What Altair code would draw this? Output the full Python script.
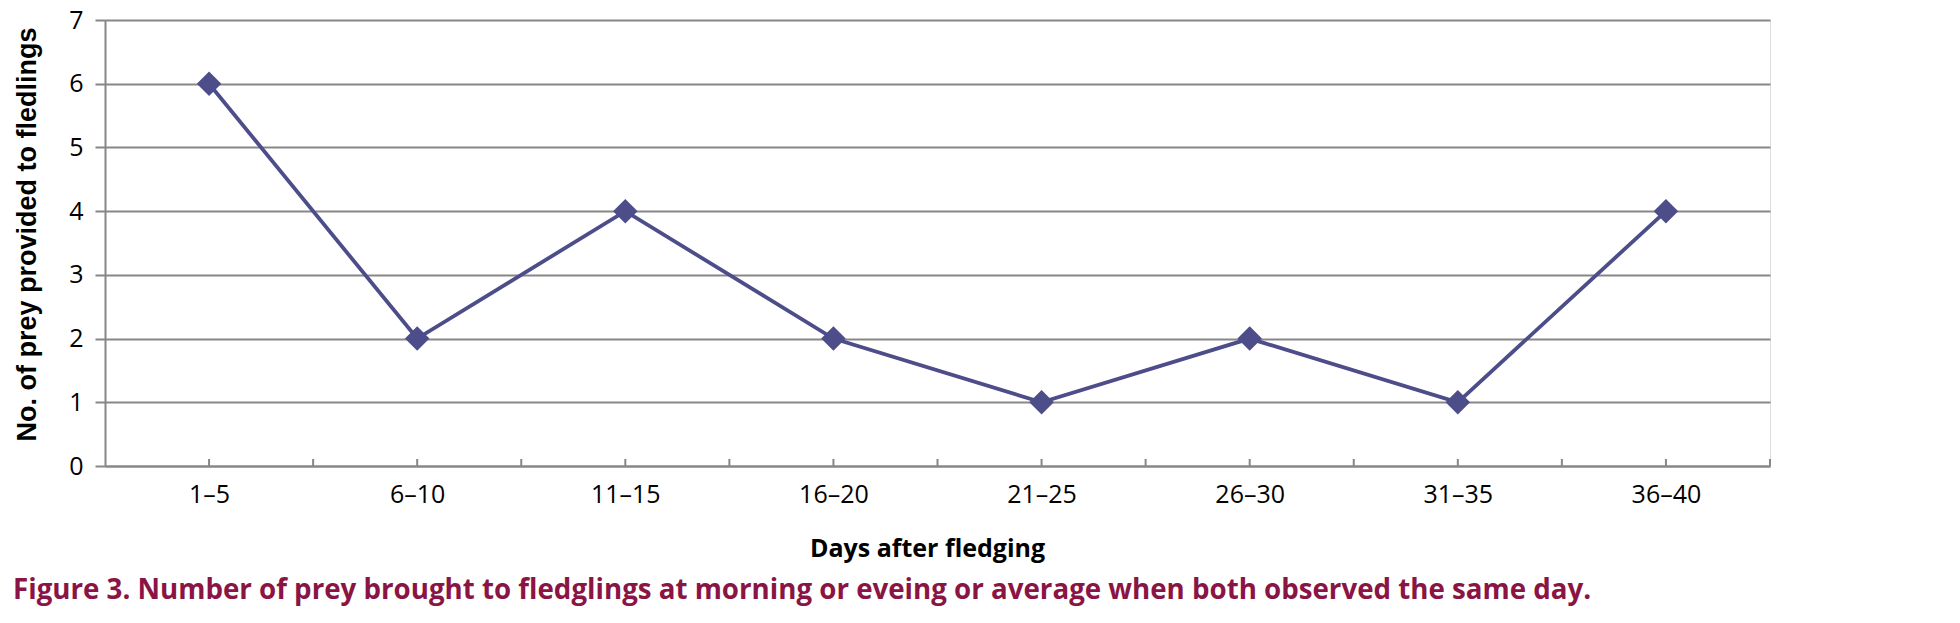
import json
import altair as alt
import pandas as pd

# ---- data ----
categories = ["1–5", "6–10", "11–15", "16–20", "21–25", "26–30", "31–35", "36–40"]
prey = [6, 2, 4, 2, 1, 2, 1, 4]
y_ticks = [0, 1, 2, 3, 4, 5, 6, 7]
x_minor_ticks = [0, 0.5, 1, 1.5, 2, 2.5, 3, 3.5, 4, 4.5, 5, 5.5, 6, 6.5, 7, 7.5]

x_title = "Days after fledging"
y_title = "No. of prey provided to fledlings"
caption = ("Figure 3. Number of prey brought to fledglings at morning or eveing "
           "or average when both observed the same day.")

df = pd.DataFrame({"idx": list(range(len(categories))), "period": categories, "prey": prey})
ticks_df = pd.DataFrame({"t": x_minor_ticks})

W, H = 1665, 446
GRID = "#878787"
LINE = "#4D4D8A"

label_expr = json.dumps(categories, ensure_ascii=False) + "[round(datum.value)]"

x_scale = alt.Scale(domain=[-0.5, len(categories) - 0.5], nice=False, zero=False)
y_scale = alt.Scale(domain=[0, 7], nice=False, zero=True)

x_axis = alt.Axis(
    values=list(range(len(categories))), labelExpr=label_expr,
    ticks=False, tickSize=0, grid=False,
    domainColor=GRID, domainWidth=2,
    labelFont="Open Sans", labelFontSize=25, labelColor="#000000",
    labelPadding=16, labelFlush=False, labelOverlap=False,
    title=x_title, titleFont="Open Sans", titleFontSize=25, titleFontWeight="bold",
    titleColor="#000000", titleX=822, titleY=90, titleAlign="center",
    titleBaseline="alphabetic",
)

y_axis = alt.Axis(
    values=y_ticks, grid=True, gridColor=GRID, gridWidth=2,
    tickSize=10, tickColor=GRID, tickWidth=2,
    domainColor=GRID, domainWidth=2,
    labelFont="Open Sans", labelFontSize=25, labelColor="#000000", labelPadding=12,
    title=y_title, titleFont="Liberation Sans", titleFontSize=27, titleFontWeight="bold",
    titleColor="#000000", titleAngle=270, titleX=-70, titleY=214,
    titleAlign="center", titleBaseline="alphabetic",
)

tick_rules = alt.Chart(ticks_df).mark_rule(color=GRID, strokeWidth=2).encode(
    x=alt.X("t:Q", scale=x_scale, axis=x_axis),
    y=alt.value(H - 7),
    y2=alt.value(H),
)

line = alt.Chart(df).mark_line(color=LINE, strokeWidth=3.8).encode(
    x=alt.X("idx:Q", scale=x_scale, axis=x_axis),
    y=alt.Y("prey:Q", scale=y_scale, axis=y_axis),
)

points = alt.Chart(df).mark_point(shape="diamond", filled=True, size=600,
                                  color=LINE, opacity=1).encode(
    x=alt.X("idx:Q", scale=x_scale, axis=x_axis),
    y=alt.Y("prey:Q", scale=y_scale, axis=y_axis),
)

chart = alt.layer(tick_rules, line, points).properties(
    width=W, height=H,
    padding={"left": 97, "top": 12, "right": 182, "bottom": 145},
    autosize=alt.AutoSizeParams(type="none"),
    title=alt.TitleParams(
        text=caption, orient="bottom", anchor="start", frame="group",
        dx=-92, offset=16, font="Open Sans", fontSize=27.7, fontWeight="bold",
        color="#8A1444", baseline="top",
    ),
).configure_view(stroke=None).configure(background="white")

chart.save("out.html", embed_options={"renderer": "svg", "actions": False})
